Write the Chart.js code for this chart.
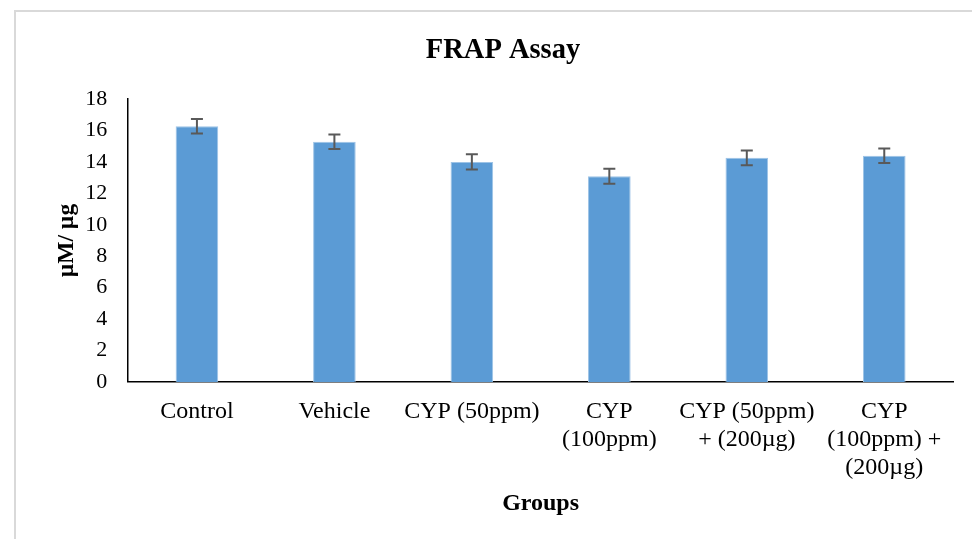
<!DOCTYPE html>
<html>
<head>
<meta charset="utf-8">
<script src="https://cdn.jsdelivr.net/npm/chart.js@4/dist/chart.umd.min.js"></script>
<style>
  body { margin: 0; background: #fff; }
  #wrap { position: relative; width: 972px; height: 539px; }
  #frame { position: absolute; left: 14px; top: 10px; right: 0; bottom: 0;
           border-left: 2px solid #d9d9d9; border-top: 2px solid #d9d9d9; }
  #myChart { position: absolute; left: 0; top: 0; }
</style>
</head>
<body>
<div id="wrap">
  <div id="frame"></div>
  <canvas id="myChart" width="972" height="539"></canvas>
</div>
<script>
const groups = [
    "Control",
    "Vehicle",
    "CYP (50ppm)",
    ["CYP", "(100ppm)"],
    ["CYP (50ppm)", "+ (200µg)"],
    ["CYP", "(100ppm) +", "(200µg)"]
];
const frapValues = [16.28, 15.29, 14.01, 13.10, 14.27, 14.40];
const frapErrors = [0.46, 0.46, 0.48, 0.48, 0.47, 0.46];
const yTicks = [0, 2, 4, 6, 8, 10, 12, 14, 16, 18];

const SERIF = "'Liberation Serif', 'Times New Roman', serif";

// draws the +/- error whiskers on top of each bar
const errorBars = {
    id: 'errorBars',
    afterDatasetsDraw(chart) {
        const ctx = chart.ctx;
        const yScale = chart.scales.y;
        const meta = chart.getDatasetMeta(0);
        ctx.save();
        ctx.strokeStyle = '#595959';
        ctx.lineWidth = 2;
        meta.data.forEach((bar, i) => {
            let v = frapValues[i];
            let e = frapErrors[i];
            let top = yScale.getPixelForValue(v + e);
            let bottom = yScale.getPixelForValue(v - e);
            ctx.beginPath();
            ctx.moveTo(bar.x, top);
            ctx.lineTo(bar.x, bottom);
            ctx.moveTo(bar.x - 6, top);
            ctx.lineTo(bar.x + 6, top);
            ctx.moveTo(bar.x - 6, bottom);
            ctx.lineTo(bar.x + 6, bottom);
            ctx.stroke();
        });
        ctx.restore();
    }
};

var ctx = document.getElementById("myChart");
var frapData = {
    labels: groups,
    datasets: [{
        label: "FRAP",
        data: frapValues,
        backgroundColor: "#5b9bd5",
        borderColor: "#9dc3e6",
        borderWidth: 1,
        barPercentage: 0.31,
        categoryPercentage: 1.0
    }]
};

var chartOptions = {
    responsive: false,
    animation: false,
    layout: { padding: { left: 53, right: 19, top: 10, bottom: 21 } },
    plugins: {
        legend: { display: false },
        tooltip: { enabled: false },
        title: {
            display: true,
            text: "FRAP Assay",
            color: "#000",
            font: { family: SERIF, size: 28.5, weight: 'bold' },
            padding: { top: 23.5, bottom: 31.5 }
        }
    },
    scales: {
        x: {
            grid: { display: false, drawTicks: false },
            border: { display: true, color: "#000", width: 1.5 },
            ticks: {
                color: "#000",
                font: { family: SERIF, size: 24, lineHeight: 1.17 },
                padding: 16,
                maxRotation: 0,
                autoSkip: false
            },
            title: {
                display: true,
                text: "Groups",
                color: "#000",
                font: { family: SERIF, size: 24, weight: 'bold' },
                padding: { top: -9, bottom: 0 }
            }
        },
        y: {
            min: yTicks[0],
            max: yTicks[yTicks.length - 1],
            afterBuildTicks: (axis) => { axis.ticks = yTicks.map(v => ({ value: v })); },
            grid: { display: false, drawTicks: false },
            border: { display: true, color: "#000", width: 1.5 },
            ticks: {
                color: "#000",
                font: { family: SERIF, size: 22 },
                padding: 21
            },
            title: {
                display: true,
                text: "µM/ µg",
                color: "#000",
                font: { family: SERIF, size: 23.5, weight: 'bold' },
                padding: { top: 0, bottom: -17 }
            }
        }
    }
};

var barChart = new Chart(ctx, {
    type: 'bar',
    data: frapData,
    options: chartOptions,
    plugins: [errorBars]
});
</script>
</body>
</html>
